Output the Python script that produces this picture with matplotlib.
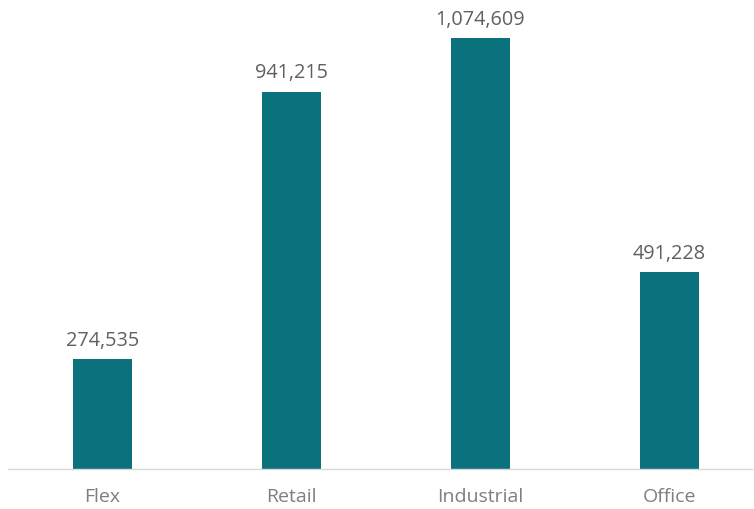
import matplotlib.pyplot as plt

categories = ['Flex', 'Retail', 'Industrial', 'Office']
values = [274535, 941215, 1074609, 491228]

bar_color = '#0B727D'
label_color = '#606060'
tick_color = '#7F7F7F'

fig = plt.figure(figsize=(7.54, 5.09), dpi=100)
ax = fig.add_axes([8 / 754, 40 / 509, 744 / 754, 469 / 509])

x = range(len(categories))
bars = ax.bar(x, values, width=0.312, color=bar_color)

for xi, v in zip(x, values):
    ax.annotate(f'{v:,}', (xi, v), xytext=(0, 6), textcoords='offset points',
                ha='center', va='bottom', fontsize=14.3, color=label_color,
                family='Open Sans')

ax.set_xlim(-0.5, -0.5 + 744 / 189)
ax.set_ylim(0, 1074609 * 469 / 431)
ax.set_xticks(list(x))
ax.set_xticklabels(categories, fontsize=14, color=tick_color, family='Open Sans')
ax.tick_params(axis='x', length=0, pad=14)
ax.set_yticks([])
for side in ['top', 'right', 'left']:
    ax.spines[side].set_visible(False)
ax.spines['bottom'].set_color('#D9D9D9')
ax.spines['bottom'].set_linewidth(1)

fig.savefig('out.png', dpi=100)
